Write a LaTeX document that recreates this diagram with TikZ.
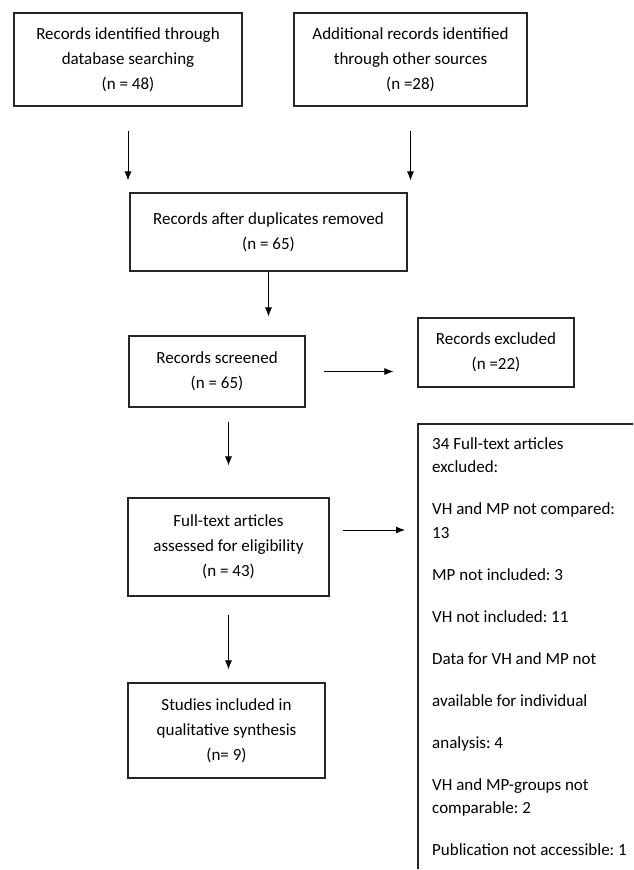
\documentclass[tikz,border=0pt]{standalone}
\usepackage{fontspec}
\setmainfont{Carlito}
\usetikzlibrary{arrows.meta}

\tikzset{
  box/.style={draw=black!85, line width=1.1pt, align=center, inner sep=0pt,
    font=\fontsize{17}{25}\selectfont},
  arr/.style={-{Latex[length=9pt,width=7pt]}, line width=0.9pt},
}

\begin{document}
\begin{tikzpicture}[x=1pt,y=-1pt]
\useasboundingbox (0,0) rectangle (633,870);
\clip (0,0) rectangle (633,870);

% Identification
\node[box, minimum width=228, minimum height=93] (ident) at (128,59.5) {Records identified through\\database searching\\(n = 48)};
\node[box, minimum width=233, minimum height=93] (other) at (410.5,59.5) {Additional records identified\\through other sources\\(n =28)};

% Screening
\node[box, minimum width=277, minimum height=78] (dupl) at (268.5,232) {Records after duplicates removed\\(n = 65)};
\node[box, minimum width=176, minimum height=71] (screen) at (217,371.5) {Records screened\\(n = 65)};
\node[box, minimum width=156, minimum height=69] (excl) at (496,352.5) {Records excluded\\(n =22)};

% Eligibility
\node[box, minimum width=201, minimum height=98] (full) at (228.5,547) {Full-text articles\\assessed for eligibility\\(n = 43)};
\node[anchor=north west, text width=240, inner xsep=14pt, inner ysep=13pt, align=flush left,
  font=\fontsize{17}{23.5}\selectfont\frenchspacing] (reasons) at (418,424)
  {34 Full-text articles\\excluded:\\[18.5pt]
   VH and MP not compared:\\13\\[18.5pt]
   MP not included: 3\\[18.5pt]
   VH not included: 11\\[18.5pt]
   Data for VH and MP not\\[18.5pt]
   available for individual\\[18.5pt]
   analysis: 4\\[18.5pt]
   VH and MP-groups not\\comparable: 2\\[18.5pt]
   Publication not accessible: 1};
\draw[draw=black!85, line width=1.1pt] (reasons.south west) -- (reasons.north west) -- (reasons.north east);

% Included
\node[box, minimum width=197, minimum height=95] (incl) at (226.5,730.5) {Studies included in\\qualitative synthesis\\(n= 9)};

% Arrows
\draw[arr, shorten <=24pt, shorten >=12pt] (ident.south) -- (ident.south |- dupl.north);
\draw[arr, shorten <=24pt, shorten >=12pt] (other.south) -- (other.south |- dupl.north);
\draw[arr, shorten >=19pt] (dupl.south) -- (dupl.south |- screen.north);
\draw[arr, shorten <=18pt, shorten >=24pt] (screen.east) -- (screen.east -| excl.west);
\draw[arr, shorten <=14pt, shorten >=32pt] (full.north |- screen.south) -- (full.north);
\coordinate (fx) at ([yshift=17pt]full.east);
\draw[arr, shorten <=13pt, shorten >=13pt] (fx) -- (fx -| reasons.west);
\draw[arr, shorten <=18pt, shorten >=13pt] (full.south) -- (full.south |- incl.north);

\end{tikzpicture}
\end{document}
